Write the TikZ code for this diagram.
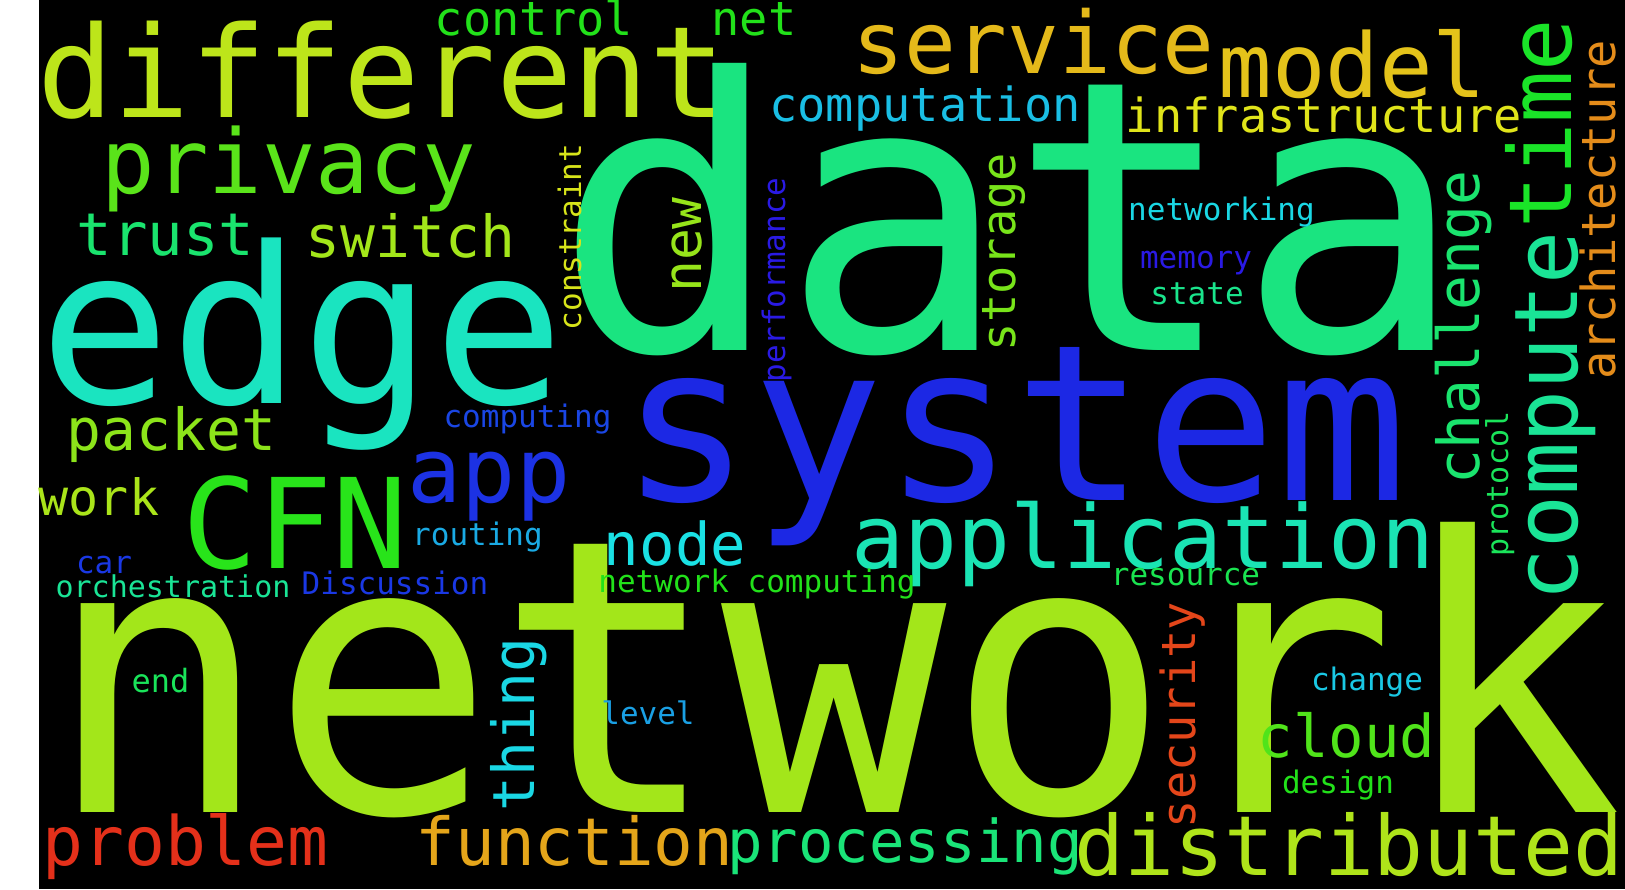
\documentclass[tikz,border=0pt]{standalone}
\usepackage{fontspec}
\newfontfamily\wcfont{DejaVu Sans Mono}
% palette
\definecolor{cLimeA}{HTML}{A3E61A}
\definecolor{cLimeB}{HTML}{BDE51A}
\definecolor{cLimeC}{HTML}{AFE41A}
\definecolor{cLimeD}{HTML}{8CE41A}
\definecolor{cLimeE}{HTML}{96E41A}
\definecolor{cLimeF}{HTML}{78E41A}
\definecolor{cLimeG}{HTML}{AAE41A}
\definecolor{cGrassA}{HTML}{5AE41A}
\definecolor{cGrassB}{HTML}{50E41A}
\definecolor{cGreenA}{HTML}{22E11A}
\definecolor{cGreenB}{HTML}{28E41A}
\definecolor{cGreenC}{HTML}{1AE428}
\definecolor{cMintA}{HTML}{1AE45A}
\definecolor{cMintB}{HTML}{1AE46E}
\definecolor{cMintC}{HTML}{1AE480}
\definecolor{cMintD}{HTML}{1AE48C}
\definecolor{cMintE}{HTML}{1AE496}
\definecolor{cMintF}{HTML}{1AE450}
\definecolor{cMintG}{HTML}{1AE478}
\definecolor{cTealA}{HTML}{1AE4C0}
\definecolor{cTealB}{HTML}{1AE4B4}
\definecolor{cCyanA}{HTML}{1AE1E4}
\definecolor{cCyanB}{HTML}{1AD7E4}
\definecolor{cCyanC}{HTML}{1AC8E4}
\definecolor{cSkyA}{HTML}{1ABEE4}
\definecolor{cSkyB}{HTML}{1AAAE4}
\definecolor{cSkyC}{HTML}{1AA0E4}
\definecolor{cBlueA}{HTML}{1C28E4}
\definecolor{cBlueB}{HTML}{1C32E4}
\definecolor{cBlueC}{HTML}{1A38E4}
\definecolor{cBlueD}{HTML}{1A46E4}
\definecolor{cVioA}{HTML}{2A1AE4}
\definecolor{cYelA}{HTML}{E0E41A}
\definecolor{cYelB}{HTML}{D7E41A}
\definecolor{cGoldA}{HTML}{E4B91A}
\definecolor{cGoldB}{HTML}{E4C31A}
\definecolor{cOrA}{HTML}{E4A51A}
\definecolor{cOrB}{HTML}{E48C1A}
\definecolor{cRedA}{HTML}{E4301A}
\definecolor{cRedB}{HTML}{E4461A}
\tikzset{
  cw/.style 2 args={inner sep=0pt, outer sep=0pt, anchor=base, text=#1,
    font=\wcfont\fontsize{#2}{#2}\selectfont},
  vw/.style 2 args={cw={#1}{#2}, rotate=90}
}
\begin{document}
\begin{tikzpicture}[x=1pt, y=-1pt]
\useasboundingbox (0,0) rectangle (1625,889);
\fill[white] (0,0) rectangle (1625,889);
\fill[black] (39,0) rectangle (1625,889);

% largest terms
\node[cw={cLimeA}{382}, xscale=0.98] (network) at (834,812) {network};
\node[cw={cMintC}{378}] (data) at (1009.5,350) {data};
\node[cw={cBlueA}{218}] (system) at (1014.5,500) {system};
\node[cw={cTealA}{218}] (edge) at (302,403) {edge};
\node[cw={cLimeB}{127}] (different) at (381.5,117) {different};
\node[cw={cGreenB}{125}] (cfn) at (295,568) {CFN};

% medium terms
\node[cw={cGoldA}{86}] (service) at (1033.5,73) {service};
\node[cw={cGoldB}{89}] (model) at (1352.5,97) {model};
\node[cw={cGrassA}{89}] (privacy) at (289,193) {privacy};
\node[cw={cBlueB}{90}] (app) at (489,502) {app};
\node[cw={cTealB}{88}] (application) at (1143,568) {application};
\node[cw={cLimeC}{83}] (distributed) at (1349,875) {distributed};
\node[cw={cRedA}{68}] (problem) at (185.5,865) {problem};
\node[cw={cOrA}{66}] (function) at (574.5,865) {function};
\node[cw={cMintG}{59}] (processing) at (905,862) {processing};
\node[cw={cMintB}{59}] (trust) at (165.5,255) {trust};
\node[cw={cLimeA}{58}] (switch) at (410.5,257) {switch};
\node[cw={cLimeD}{58}] (packet) at (171.5,450) {packet};
\node[cw={cCyanA}{59}] (node) at (675,565) {node};
\node[cw={cGrassB}{59}] (cloud) at (1346.5,757) {cloud};
\node[cw={cLimeG}{50}] (work) at (99,515) {work};
\node[cw={cGreenA}{47}] (control) at (534,35) {control};
\node[cw={cGreenA}{47}] (net) at (754,35) {net};
\node[cw={cSkyA}{47}] (computation) at (925,121) {computation};
\node[cw={cYelA}{47}] (infrastructure) at (1324,132) {infrastructure};

% small terms
\node[cw={cBlueD}{31}] (computing) at (527.5,427) {computing};
\node[cw={cCyanB}{31}] (networking) at (1221.5,220) {networking};
\node[cw={cVioA}{31}] (memory) at (1196,268) {memory};
\node[cw={cMintD}{31}] (state) at (1197,304) {state};
\node[cw={cSkyB}{31}] (routing) at (477.5,545) {routing};
\node[cw={cBlueC}{31}] (car) at (104,573) {car};
\node[cw={cMintE}{30}] (orchestration) at (173,597) {orchestration};
\node[cw={cBlueC}{31}] (discussion) at (395,594) {Discussion};
\node[cw={cMintA}{32}] (end) at (160.5,692) {end};
\node[cw={cGreenA}{31}] (netcomp) at (757,592) {network computing};
\node[cw={cSkyC}{31}] (level) at (648,724) {level};
\node[cw={cMintF}{31}] (resource) at (1185.5,585) {resource};
\node[cw={cCyanC}{31}] (change) at (1367,690) {change};
\node[cw={cGreenA}{31}] (design) at (1338,793) {design};

% vertical terms
\node[vw={cYelB}{31}] (constraint) at (581,237) {constraint};
\node[vw={cLimeE}{53}] (new) at (701,245) {new};
\node[vw={cVioA}{31}] (performance) at (785,280) {performance};
\node[vw={cLimeF}{47}] (storage) at (1015,252) {storage};
\node[vw={cMintB}{58}] (challenge) at (1479,327.5) {challenge};
\node[vw={cGreenC}{87}] (time) at (1571,123.5) {time};
\node[vw={cMintE}{88}] (compute) at (1577,416.5) {compute};
\node[vw={cOrB}{47}] (architecture) at (1615,210) {architecture};
\node[vw={cMintA}{30}] (protocol) at (1508,484) {protocol};
\node[vw={cRedB}{47}] (security) at (1195,715) {security};
\node[vw={cCyanB}{58}] (thing) at (534,724.5) {thing};
\end{tikzpicture}
\end{document}
